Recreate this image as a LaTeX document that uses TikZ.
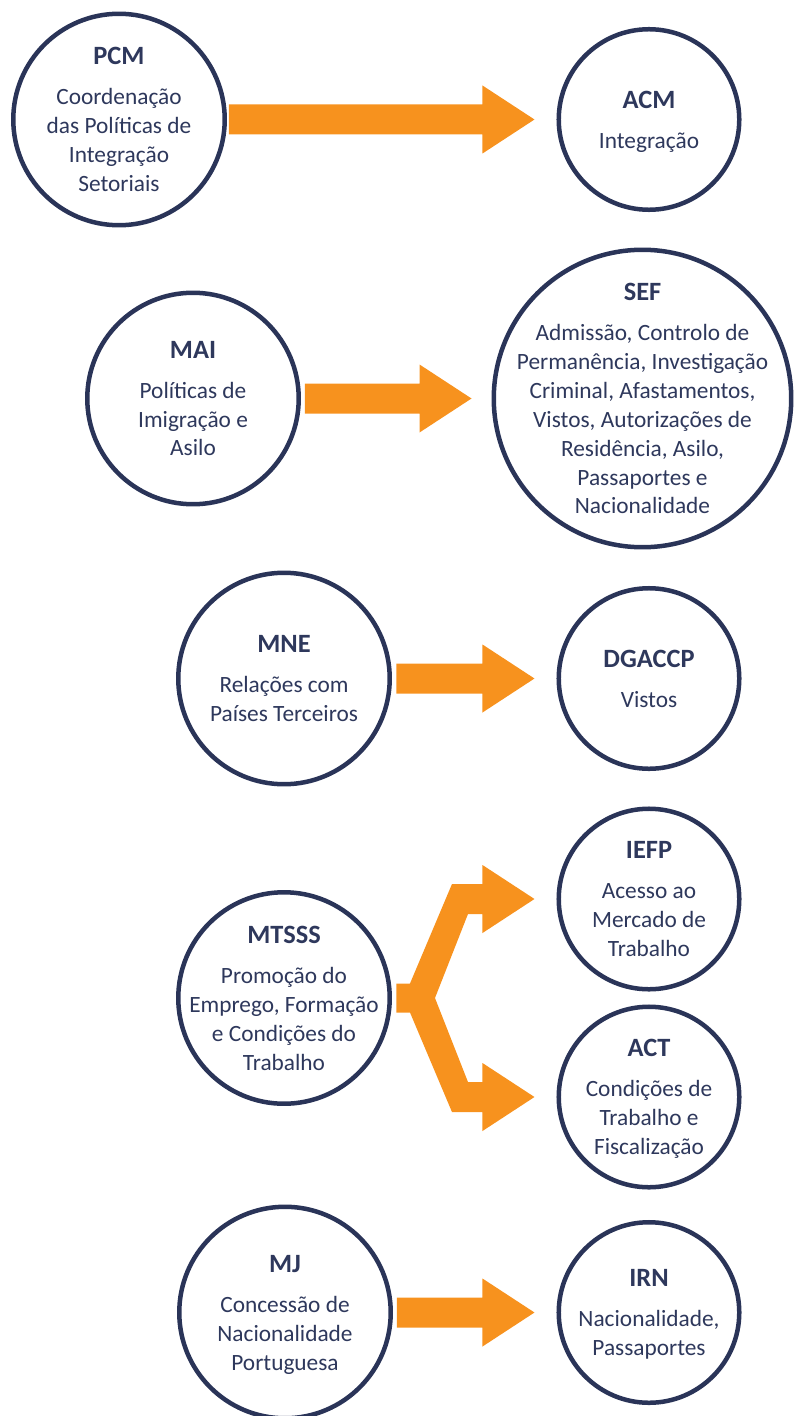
\documentclass[tikz,border=0pt]{standalone}
\usepackage{fontspec}
\setmainfont{Carlito}
\usetikzlibrary{calc}
\definecolor{navy}{RGB}{42,52,88}
\definecolor{txtnavy}{RGB}{46,56,92}
\definecolor{orng}{RGB}{247,146,30}
\newcommand\hd[1]{{\fontsize{19.8}{21.7}\selectfont\bfseries #1}\\[8.3pt]}
\newcommand\blockarrow[2]{%
  \fill[flow] ($(#1)+(0,-15)$) -- ($(#2)+(-52,-15)$) -- ($(#2)+(-52,-34)$) -- (#2)
    -- ($(#2)+(-52,34)$) -- ($(#2)+(-52,15)$) -- ($(#1)+(0,15)$) -- cycle;}
\begin{document}
\begin{tikzpicture}[x=0.75pt,y=-0.75pt,
  orgring/.style={circle,draw=navy,line width=3.375pt,inner sep=0pt,fill=white},
  bigring/.style={orgring,minimum size=158.6pt},
  smallring/.style={orgring,minimum size=135.4pt},
  hugering/.style={orgring,minimum size=223.1pt},
  circtext/.style={align=center,text=txtnavy,font=\fontsize{17.5}{21.7}\selectfont,inner sep=0pt,text depth=0pt},
  flow/.style={fill=orng}]
\useasboundingbox (0,0) rectangle (793,1416);

% circles
\node[bigring] (pcm) at (119,119.5) {};
\node[smallring] (acm) at (649,119.5) {};
\node[bigring] (mai) at (193,398.5) {};
\node[hugering] (sef) at (642.5,398.5) {};
\node[bigring] (mne) at (284,678.5) {};
\node[smallring] (dgaccp) at (649,678.5) {};
\node[bigring] (mtsss) at (284,998) {};
\node[smallring] (iefp) at (649,899) {};
\node[smallring] (act) at (649,1097) {};
\node[bigring] (mj) at (285,1312.5) {};
\node[smallring] (irn) at (649,1312.5) {};

% texts
\node[circtext] (pcm-t) at (pcm.center) {\hd{PCM}Coordenação\\das Políticas de\\Integração\\Setoriais};
\node[circtext] (acm-t) at (acm.center) {\hd{ACM}Integração};
\node[circtext] (mai-t) at (mai.center) {\hd{MAI}Políticas de\\Imigração e\\Asilo};
\node[circtext] (sef-t) at (sef.center) {\hd{SEF}Admissão, Controlo de\\Permanência, Investigação\\Criminal, Afastamentos,\\Vistos, Autorizações de\\Residência, Asilo,\\Passaportes e\\Nacionalidade};
\node[circtext] (mne-t) at (mne.center) {\hd{MNE}Relações com\\Países Terceiros};
\node[circtext] (dgaccp-t) at (dgaccp.center) {\hd{DGACCP}Vistos};
\node[circtext] (mtsss-t) at (mtsss.center) {\hd{MTSSS}Promoção do\\Emprego, Formação\\e Condições do\\Trabalho};
\node[circtext] (iefp-t) at (iefp.center) {\hd{IEFP}Acesso ao\\Mercado de\\Trabalho};
\node[circtext] (act-t) at (act.center) {\hd{ACT}Condições de\\Trabalho e\\Fiscalização};
\node[circtext] (mj-t) at (mj.center) {\hd{MJ}Concessão de\\Nacionalidade\\Portuguesa};
\node[circtext] (irn-t) at (irn.center) {\hd{IRN}Nacionalidade,\\Passaportes};

% arrow end points
\coordinate (a1s) at ($(pcm.east)+(2,0)$);
\coordinate (a1t) at ($(acm.west)+(-22,0)$);
\coordinate (a2s) at ($(mai.east)+(4,0)$);
\coordinate (a2t) at ($(sef.west)+(-20,0)$);
\coordinate (a3s) at ($(mne.east)+(4.5,0)$);
\coordinate (a3t) at ($(dgaccp.west)+(-22,0)$);
\coordinate (a5s) at ($(mj.east)+(4,0)$);
\coordinate (a5t) at ($(irn.west)+(-22,0)$);
\coordinate (fs) at ($(mtsss.east)+(4.5,0)$);
\coordinate (ft1) at ($(iefp.west)+(-22,0)$);
\coordinate (ft2) at ($(act.west)+(-22,0)$);

\blockarrow{a1s}{a1t}
\blockarrow{a2s}{a2t}
\blockarrow{a3s}{a3t}
\blockarrow{a5s}{a5t}

% forked arrow
\fill[flow] ($(fs)+(0,-14.5)$) -- ($(fs)+(13.5,-14.5)$)
  -- ($(ft1)+(-82.5,-15)$) -- ($(ft1)+(-52,-15)$) -- ($(ft1)+(-52,-34)$) -- (ft1)
  -- ($(ft1)+(-52,34)$) -- ($(ft1)+(-52,15)$) -- ($(ft1)+(-66.5,15)$)
  -- ($(fs)+(38.5,0)$)
  -- ($(ft2)+(-66.5,-15)$) -- ($(ft2)+(-52,-15)$) -- ($(ft2)+(-52,-34)$) -- (ft2)
  -- ($(ft2)+(-52,34)$) -- ($(ft2)+(-52,15)$) -- ($(ft2)+(-82.5,15)$)
  -- ($(fs)+(13.5,14.5)$) -- ($(fs)+(0,14.5)$) -- cycle;
\end{tikzpicture}
\end{document}
